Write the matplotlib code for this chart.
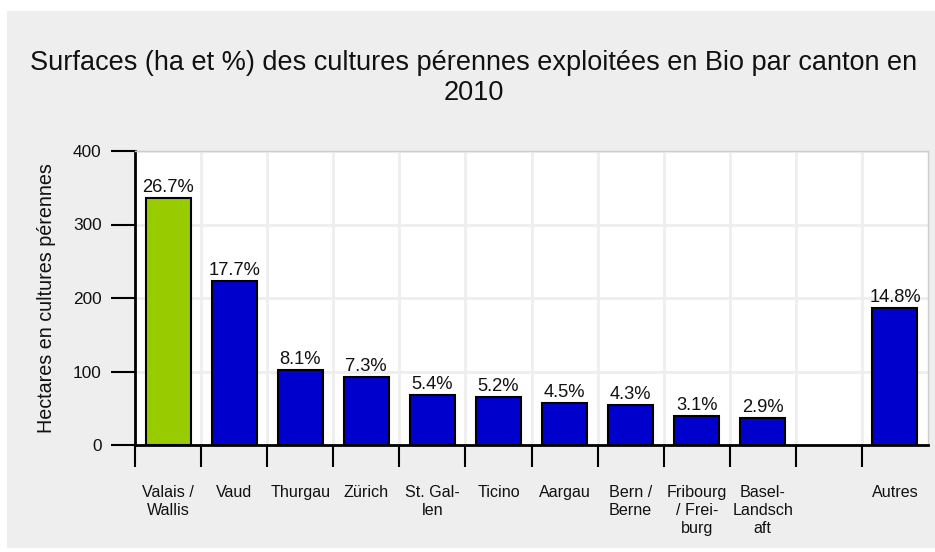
import matplotlib
matplotlib.use("Agg")
import matplotlib.pyplot as plt
from matplotlib.patches import Rectangle

categories = ["Valais /\nWallis", "Vaud", "Thurgau", "Zürich", "St. Gal-\nlen", "Ticino",
              "Aargau", "Bern /\nBerne", "Fribourg\n/ Frei-\nburg", "Basel-\nLandsch\naft", "", "Autres"]
values = [335.5, 222.5, 102, 92, 68, 65.5, 56.5, 54, 39, 36.5, None, 186]
pct_labels = ["26.7%", "17.7%", "8.1%", "7.3%", "5.4%", "5.2%", "4.5%", "4.3%", "3.1%", "2.9%", "", "14.8%"]
colors = ["#99cc00"] + ["#0000cc"] * 11
yticks = [0, 100, 200, 300, 400]

plt.rcParams['font.family'] = ['Liberation Sans', 'DejaVu Sans']

W, H = 935, 552
fig = plt.figure(figsize=(W / 100, H / 100), dpi=100)
fig.patch.set_facecolor("white")
fig.patches.append(Rectangle((7 / W, 1 - 548 / H), (935 - 7) / W, (548 - 11) / H,
                             transform=fig.transFigure, facecolor="#eeeeee",
                             edgecolor="none", zorder=-10))

left, right, top, bottom = 135, 928, 151, 445
ax = fig.add_axes([left / W, 1 - bottom / H, (right - left) / W, (bottom - top) / H])
ax.set_facecolor("white")

n = len(categories)
xs = list(range(n))
for i, (v, c, lab) in enumerate(zip(values, colors, pct_labels)):
    if v is None:
        continue
    ax.bar(i, v, width=0.68, color=c, edgecolor="black", linewidth=1.5, zorder=3)
    ax.text(i, v + 3, lab, ha="center", va="bottom", fontsize=13.2, color="#111111", zorder=4)

ax.set_xlim(-0.5, n - 0.5)
ax.set_ylim(0, 400)
ax.set_yticks(yticks)
ax.set_yticklabels([str(t) for t in yticks], fontsize=12.4, color="#111111")

bounds = [i - 0.5 for i in range(n + 1)]
ax.set_xticks(bounds[:-1])
ax.set_xticklabels([])
ax.set_xticks(xs, minor=True)
ax.set_xticklabels(categories, minor=True, fontsize=11.6, linespacing=1.25, color="#111111")
ax.tick_params(axis="x", which="minor", length=0, pad=29)
ax.tick_params(axis="x", which="major", length=16, width=1.5, direction="out", color="black")
ax.tick_params(axis="y", length=17, width=1.5, direction="out", pad=7)

ax.grid(True, which="major", color="#eeeeee", linewidth=2, zorder=0)
ax.set_axisbelow(True)

for s in ["top", "right"]:
    ax.spines[s].set_color("#cccccc")
    ax.spines[s].set_linewidth(1)
for s in ["left", "bottom"]:
    ax.spines[s].set_color("black")
    ax.spines[s].set_linewidth(2)

ax.set_ylabel("Hectares en cultures pérennes", fontsize=14.2, labelpad=12.5, color="#111111")

fig.text(474 / W, 1 - 78 / H,
         "Surfaces (ha et %) des cultures pérennes exploitées en Bio par canton en\n2010",
         ha="center", va="center", fontsize=19.5, linespacing=1.22, color="#111111")

fig.savefig("out.png", dpi=100, facecolor=fig.get_facecolor())
